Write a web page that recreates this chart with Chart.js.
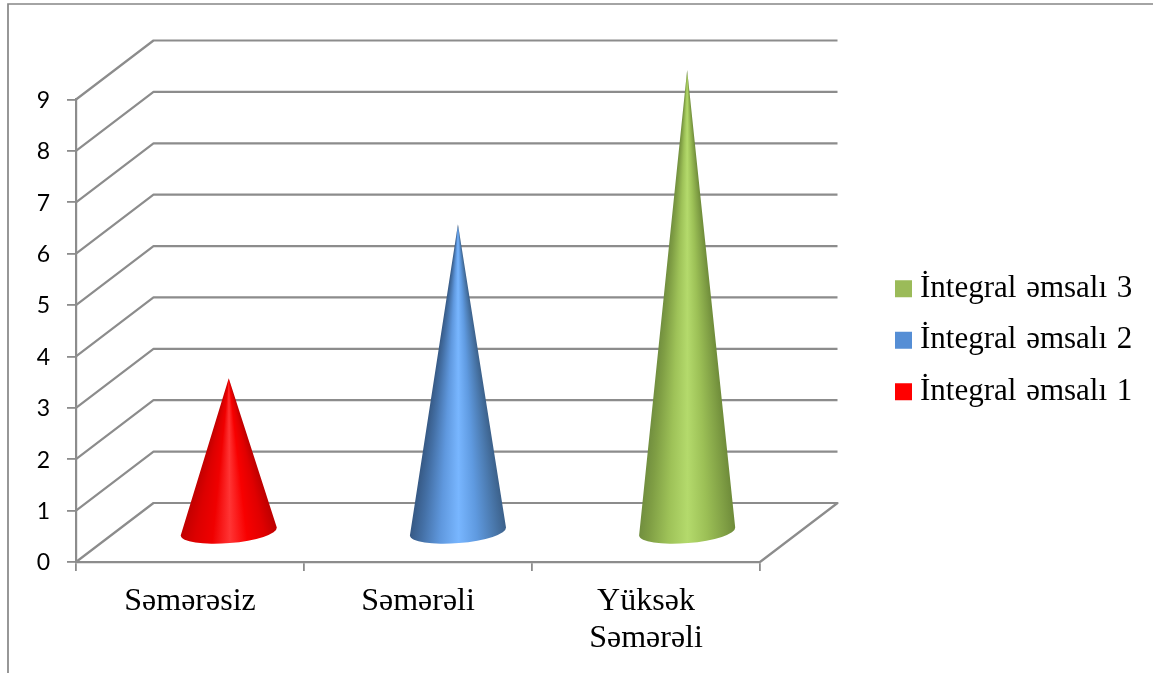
<!DOCTYPE html>
<html>
<head>
<meta charset="utf-8">
<style>html,body{margin:0;padding:0;background:#fff}canvas{display:block}</style>
<script src="https://cdn.jsdelivr.net/npm/chart.js@4/dist/chart.umd.min.js"></script>
</head>
<body>
<canvas id="c" width="1153" height="673"></canvas>
<script>
const categories = [['Səmərəsiz'], ['Səmərəli'], ['Yüksək', 'Səmərəli']];
const seriesNames = ['İntegral əmsalı 1', 'İntegral əmsalı 2', 'İntegral əmsalı 3'];
const series1 = [3, null, null];
const series2 = [null, 6, null];
const series3 = [null, null, 9];
const swatches = ['#ff0000', '#558ed5', '#9bbb59'];
const shades = [
  ['#bb0000', '#dc0000', '#f00000', '#ff3434', '#f80000', '#e00000', '#b40000'],
  ['#2f4d73', '#4470a6', '#5f98de', '#78b6ff', '#5f9ae0', '#4a78ac', '#345478'],
  ['#64803a', '#7f9e44', '#9ec258', '#b4da6c', '#9cc056', '#7f9e44', '#5f7a30']
];
const GRID = '#8c8c8c';
const DEPTH_X = 77.5, DEPTH_Y = 59, CONE_SPREAD = 1.2;

const wall = {
  id: 'wall',
  beforeDraw(chart) {
    const c = chart.ctx;
    c.wordSpacing = '2px';
    c.save();
    c.strokeStyle = '#868686';
    c.lineWidth = 1.7;
    c.beginPath();
    c.moveTo(8, chart.height); c.lineTo(8, 4); c.lineTo(chart.width, 4);
    c.stroke();
    c.restore();
  },
  beforeDatasetsDraw(chart) {
    const c = chart.ctx, x = chart.scales.x, y = chart.scales.y;
    c.save();
    c.strokeStyle = GRID;
    c.lineWidth = 2.2;
    c.lineJoin = 'round';
    y.ticks.forEach(t => {
      const py = y.getPixelForValue(t.value);
      c.beginPath();
      c.moveTo(x.left, py);
      c.lineTo(x.left + DEPTH_X, py - DEPTH_Y);
      c.lineTo(x.right + DEPTH_X, py - DEPTH_Y);
      if (t.value === 0) c.lineTo(x.right, py);
      c.stroke();
    });
    c.restore();
  },
  afterDatasetsDraw(chart) {
    const c = chart.ctx;
    chart.data.datasets.forEach((ds, i) => {
      chart.getDatasetMeta(i).data.forEach((el, idx) => {
        if (ds.data[idx] == null) return;
        const r = el.width / 2;
        const cx = el.x + DEPTH_X / 2 + idx * CONE_SPREAD, cy = el.base - DEPTH_Y / 2;
        const tipX = cx, tipY = el.y - DEPTH_Y / 2;
        const rot = -0.083, ry = 11.5;
        const lx = cx - r * Math.cos(rot), ly = cy - r * Math.sin(rot);
        const rx = cx + r * Math.cos(rot), ry2 = cy + r * Math.sin(rot);
        const aL = Math.atan2(ly - tipY, lx - tipX);
        const aR = Math.atan2(ry2 - tipY, rx - tipX);
        const g = c.createConicGradient(aR - 0.02, tipX, tipY);
        const span = (aL - aR + 0.04) / (2 * Math.PI);
        const st = shades[i];
        st.forEach((col, k) => {
          g.addColorStop(span * (st.length - 1 - k) / (st.length - 1), col);
        });
        g.addColorStop(Math.min(1, span + 0.001), st[0]);
        c.save();
        c.fillStyle = g;
        c.beginPath();
        c.moveTo(tipX, tipY);
        c.lineTo(lx, ly);
        c.ellipse(cx, cy, r, ry, rot, Math.PI, 0, true);
        c.closePath();
        c.fill();
        c.restore();
      });
    });
  },
  beforeLayout(chart) {
    const lg = chart.legend;
    if (lg && !lg._wrapped) {
      const fit = lg.fit;
      lg.fit = function () { fit.call(this); this.width = 393; };
      lg._wrapped = true;
    }
  },
  afterLayout(chart) {
    const lg = chart.legend;
    const w = lg.width, h = lg.height;
    lg.left = 882; lg.right = lg.left + w;
    lg.top = 252.8; lg.bottom = lg.top + h;
  }
};

new Chart(document.getElementById('c'), {
  type: 'bar',
  data: {
    labels: categories,
    datasets: [
      { label: seriesNames[0], data: series1, backgroundColor: 'transparent' },
      { label: seriesNames[1], data: series2, backgroundColor: 'transparent' },
      { label: seriesNames[2], data: series3, backgroundColor: 'transparent' }
    ]
  },
  plugins: [wall],
  options: {
    responsive: false,
    animation: false,
    devicePixelRatio: 1,
    categoryPercentage: 1,
    barPercentage: 0.423,
    layout: { padding: { left: 0, top: 99.5, right: 0, bottom: 0 } },
    plugins: {
      tooltip: { enabled: false },
      legend: {
        position: 'right',
        align: 'start',
        reverse: true,
        labels: {
          boxWidth: 2,
          boxHeight: 2,
          padding: 20.5,
          color: '#000',
          font: { family: '"Liberation Serif"', size: 31 },
          generateLabels(chart) {
            return chart.data.datasets.map((d, i) => ({
              text: d.label,
              datasetIndex: i,
              fillStyle: swatches[i],
              strokeStyle: swatches[i],
              lineWidth: 15,
              hidden: false
            }));
          }
        }
      }
    },
    scales: {
      x: {
        stacked: true,
        afterFit(s) { s.height = 111; },
        border: { color: GRID, width: 2.2 },
        grid: { drawOnChartArea: false, tickLength: 9, color: GRID, lineWidth: 1.8, offset: true },
        ticks: {
          color: '#000',
          padding: 12,
          maxRotation: 0,
          autoSkip: false,
          font: { family: '"Liberation Serif"', size: 32, lineHeight: 1.156 }
        }
      },
      y: {
        stacked: true,
        min: 0,
        max: 9,
        afterFit(s) { s.width = 76; },
        border: { color: GRID, width: 2.2 },
        grid: { drawOnChartArea: false, tickLength: 9, color: GRID, lineWidth: 1.8 },
        ticks: {
          stepSize: 1,
          color: '#000',
          padding: 17,
          labelOffset: 1,
          font: { family: 'Lato', size: 23 }
        }
      }
    }
  }
});
</script>
</body>
</html>
